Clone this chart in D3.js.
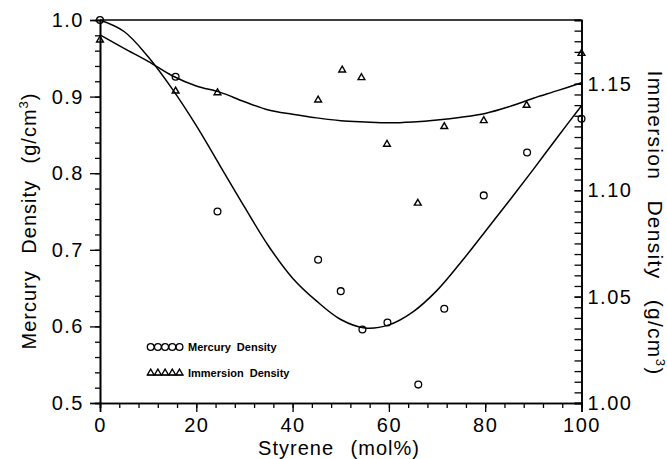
<!DOCTYPE html>
<html>
<head>
<meta charset="utf-8">
<script src="https://cdn.jsdelivr.net/npm/d3@7"></script>
<style>
  body { margin: 0; background: #fff; }
  svg { display: block; }
  .tick text { font-family: "Liberation Sans", Arial, sans-serif; font-size: 20px; letter-spacing: 1.5px; fill: #000; }
  .title { font-family: "Liberation Sans", Arial, sans-serif; font-size: 20px; letter-spacing: 1px; word-spacing: 10px; fill: #000; }
  .title.right { font-size: 21px; letter-spacing: 1.3px; word-spacing: 13px; }
  .legend { font-family: "Liberation Sans", Arial, sans-serif; font-size: 11px; font-weight: bold; word-spacing: 3px; fill: #000; }
</style>
</head>
<body>
<div id="chart"></div>
<script>
const WIDTH = 667;
const HEIGHT = 459;
const MARGIN = {top: 20, right: 85.5, bottom: 56, left: 100};

// measured points (styrene mol%)
const styrene = [0, 15.7, 24.4, 45.3, 50, 54.5, 59.7, 66.1, 71.5, 79.7, 88.7, 100];
const mercuryDensity = [1.0, 0.926, 0.750, 0.687, 0.646, 0.596, 0.605, 0.524, 0.623, 0.771, 0.827, 0.871];

const styreneImm = [0, 15.7, 24.4, 45.3, 50.3, 54.3, 59.6, 66, 71.5, 79.7, 88.6, 100];
const immersionDensity = [1.1706, 1.1466, 1.1458, 1.1424, 1.1565, 1.1529, 1.1216, 1.0939, 1.1299, 1.1327, 1.1399, 1.1643];

// fitted curves
const fitX = [0, 5, 10, 15, 20, 25, 30, 35, 40, 45, 50, 55, 60, 65, 70, 75, 80, 85, 90, 95, 100];
const mercuryFit = [1.0, 0.985, 0.952, 0.91, 0.862, 0.809, 0.756, 0.705, 0.663, 0.633, 0.609, 0.598, 0.602, 0.619, 0.647, 0.684, 0.724, 0.764, 0.805, 0.847, 0.888];
const immersionFit = [1.173, 1.1667, 1.1606, 1.1538, 1.149, 1.146, 1.1416, 1.1377, 1.1357, 1.134, 1.1327, 1.1321, 1.1317, 1.1321, 1.133, 1.1343, 1.1361, 1.1393, 1.1432, 1.1468, 1.1505];

const xTicks = [0, 20, 40, 60, 80, 100];
const leftTicks = [0.5, 0.6, 0.7, 0.8, 0.9, 1.0];
const rightTicks = [1.00, 1.05, 1.10, 1.15];

const legendItems = ["Mercury  Density", "Immersion  Density"];

const svg = d3.select('#chart')
    .append('svg')
    .attr('width', WIDTH)
    .attr('height', HEIGHT);

const innerW = WIDTH - MARGIN.left - MARGIN.right;
const innerH = HEIGHT - MARGIN.top - MARGIN.bottom;

const g = svg.append('g')
    .attr('transform', `translate(${MARGIN.left},${MARGIN.top})`);

const x = d3.scaleLinear().domain([0, 100]).range([0, innerW]);
const yL = d3.scaleLinear().domain([0.5, 1.0]).range([innerH, 0]);
const yR = d3.scaleLinear().domain([1.0, 1.18]).range([innerH, 0]);

// minor ticks first
g.append('g')
    .attr('transform', `translate(0,${innerH})`)
    .call(d3.axisBottom(x).tickValues(d3.range(0, 101, 4)).tickSize(5).tickFormat(''));
g.append('g')
    .call(d3.axisLeft(yL).tickValues(d3.range(0.5, 1.001, 0.02)).tickSize(5).tickFormat(''));
g.append('g')
    .attr('transform', `translate(${innerW},0)`)
    .call(d3.axisRight(yR).tickValues(d3.range(1.0, 1.1801, 0.005)).tickSize(-7).tickFormat(''));

// major ticks
g.append('g')
    .attr('transform', `translate(0,${innerH})`)
    .call(d3.axisBottom(x).tickValues(xTicks).tickSize(9).tickPadding(6).tickFormat(d3.format('d')));
g.append('g')
    .call(d3.axisLeft(yL).tickValues(leftTicks).tickSize(10).tickPadding(6).tickFormat(d3.format('.1f')));
g.append('g')
    .attr('transform', `translate(${innerW},0)`)
    .call(d3.axisRight(yR).tickValues(rightTicks).tickSize(-7).tickPadding(6).tickFormat(d3.format('.2f')));

g.selectAll('.domain').attr('stroke', '#000').attr('stroke-width', 1.6);
g.selectAll('.tick line').attr('stroke', '#000').attr('stroke-width', 1.3);

// top frame
g.append('line')
    .attr('x1', 0).attr('x2', innerW)
    .attr('y1', 0).attr('y2', 0)
    .attr('stroke', '#000').attr('stroke-width', 1.6);

// fitted curves
const mercLine = d3.line()
    .x((d, i) => x(fitX[i]))
    .y(d => yL(d))
    .curve(d3.curveCatmullRom.alpha(0.5));
const immLine = d3.line()
    .x((d, i) => x(fitX[i]))
    .y(d => yR(d))
    .curve(d3.curveCatmullRom.alpha(0.5));

g.append('path').datum(mercuryFit)
    .attr('d', mercLine)
    .attr('fill', 'none').attr('stroke', '#000').attr('stroke-width', 1.5);
g.append('path').datum(immersionFit)
    .attr('d', immLine)
    .attr('fill', 'none').attr('stroke', '#000').attr('stroke-width', 1.5);

// markers
g.selectAll('.merc')
    .data(mercuryDensity)
    .enter().append('circle')
    .attr('class', 'merc')
    .attr('cx', (d, i) => x(styrene[i]))
    .attr('cy', d => yL(d))
    .attr('r', 3.4)
    .attr('fill', 'none').attr('stroke', '#000').attr('stroke-width', 1.3);

const tri = d3.symbol().type(d3.symbolTriangle).size(20);
g.selectAll('.imm')
    .data(immersionDensity)
    .enter().append('path')
    .attr('class', 'imm')
    .attr('d', tri)
    .attr('transform', (d, i) => `translate(${x(styreneImm[i])},${yR(d)})`)
    .attr('fill', 'none').attr('stroke', '#000').attr('stroke-width', 1.4);

// legend
const leg = g.append('g').attr('transform', 'translate(47,327)');
const legSymbols = d3.range(5);
leg.selectAll('.lc')
    .data(legSymbols)
    .enter().append('circle')
    .attr('cx', d => 3.7 + d * 7.2)
    .attr('cy', 0)
    .attr('r', 3.4)
    .attr('fill', 'none').attr('stroke', '#000').attr('stroke-width', 1.3);
leg.selectAll('.lt')
    .data(legSymbols)
    .enter().append('path')
    .attr('d', d3.symbol().type(d3.symbolTriangle).size(20))
    .attr('transform', d => `translate(${3.7 + d * 7.2},26)`)
    .attr('fill', 'none').attr('stroke', '#000').attr('stroke-width', 1.3);
leg.append('line')
    .attr('x1', 0).attr('x2', 36.5).attr('y1', 28.3).attr('y2', 28.3)
    .attr('stroke', '#000').attr('stroke-width', 1.1);
leg.selectAll('.legend')
    .data(legendItems)
    .enter().append('text')
    .attr('class', 'legend')
    .attr('x', 41)
    .attr('y', (d, i) => 4 + i * 26)
    .text(d => d);

// axis titles
svg.append('text')
    .attr('class', 'title')
    .attr('text-anchor', 'middle')
    .attr('transform', 'translate(36,221) rotate(-90)')
    .text('Mercury Density (g/cm')
    .append('tspan').attr('dy', -8).attr('font-size', 13).text('3')
    .select(function() { return this.parentNode; })
    .append('tspan').attr('dy', 8).text(')');

svg.append('text')
    .attr('class', 'title right')
    .attr('text-anchor', 'middle')
    .attr('transform', 'translate(648,223) rotate(90)')
    .text('Immersion Density (g/cm')
    .append('tspan').attr('dy', -8).attr('font-size', 13).text('3')
    .select(function() { return this.parentNode; })
    .append('tspan').attr('dy', 8).text(')');

svg.append('text')
    .attr('class', 'title')
    .attr('text-anchor', 'middle')
    .attr('x', 339)
    .attr('y', 455)
    .text('Styrene (mol%)');
</script>
</body>
</html>
